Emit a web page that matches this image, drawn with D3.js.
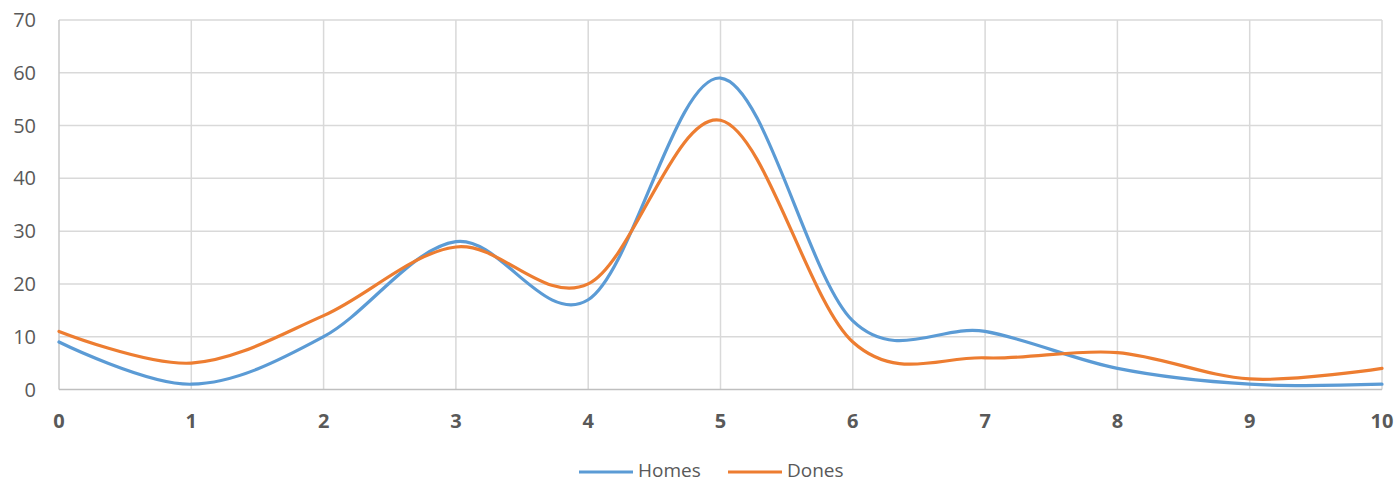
<!DOCTYPE html>
<html>
<head>
<meta charset="utf-8">
<script src="https://cdn.jsdelivr.net/npm/d3@7"></script>
<style>
  html, body { margin: 0; padding: 0; background: #fff; }
  svg { display: block; }
</style>
</head>
<body>
<div id="chart"></div>
<script>
const xValues = [0, 1, 2, 3, 4, 5, 6, 7, 8, 9, 10];
const homes = [9, 1, 10, 28, 17, 59, 13, 11, 4, 1, 1];
const dones = [11, 5, 14, 27, 20, 51, 9, 6, 7, 2, 4];
const yTicks = [0, 10, 20, 30, 40, 50, 60, 70];
const seriesNames = ["Homes", "Dones"];
const seriesColors = ["#5B9BD5", "#ED7D31"];

const W = 1397, H = 482;
const margin = { left: 59, right: 15, top: 20, bottom: 92.5 };
const svg = d3.select("#chart").append("svg").attr("width", W).attr("height", H);

const x = d3.scaleLinear().domain([0, 10]).range([margin.left, W - margin.right]);
const y = d3.scaleLinear().domain([0, 70]).range([H - margin.bottom, margin.top]);

const font = "'Open Sans', 'Liberation Sans', sans-serif";

// horizontal grid
svg.append("g").selectAll("line").data(yTicks.filter(d => d > 0)).join("line")
  .attr("x1", x(0)).attr("x2", x(10))
  .attr("y1", d => y(d)).attr("y2", d => y(d))
  .attr("stroke", "#d9d9d9").attr("stroke-width", 1.5);

// vertical grid
svg.append("g").selectAll("line").data(xValues.filter(d => d > 0)).join("line")
  .attr("x1", d => x(d)).attr("x2", d => x(d))
  .attr("y1", y(0)).attr("y2", y(70))
  .attr("stroke", "#d9d9d9").attr("stroke-width", 1.5);

// axes lines
svg.append("line").attr("x1", x(0)).attr("x2", x(0)).attr("y1", y(0)).attr("y2", y(70))
  .attr("stroke", "#c8c8c8").attr("stroke-width", 1.5);
svg.append("line").attr("x1", x(0)).attr("x2", x(10)).attr("y1", y(0)).attr("y2", y(0))
  .attr("stroke", "#bfbfbf").attr("stroke-width", 1.5);

// y labels
svg.append("g").selectAll("text").data(yTicks).join("text")
  .attr("x", 36).attr("y", d => y(d)).attr("dy", "0.35em")
  .attr("text-anchor", "end")
  .attr("font-family", font).attr("font-size", 20).attr("fill", "#595959")
  .text(d => d);

// x labels
svg.append("g").selectAll("text").data(xValues).join("text")
  .attr("x", d => x(d)).attr("y", 421).attr("dy", "0.35em")
  .attr("text-anchor", "middle")
  .attr("font-family", font).attr("font-size", 20).attr("font-weight", "bold").attr("fill", "#595959")
  .text(d => d);

// lines
const line = d3.line().x(d => x(d[0])).y(d => y(d[1])).curve(d3.curveCardinal.tension(0));
[homes, dones].forEach((vals, i) => {
  svg.append("path")
    .datum(xValues.map((xv, j) => [xv, vals[j]]))
    .attr("d", line)
    .attr("fill", "none")
    .attr("stroke", seriesColors[i])
    .attr("stroke-width", 3.2)
    .attr("stroke-linecap", "round");
});

// legend
const legendX = [579, 728];
seriesNames.forEach((name, i) => {
  const g = svg.append("g");
  g.append("line").attr("x1", legendX[i]).attr("x2", legendX[i] + 54)
    .attr("y1", 472).attr("y2", 472)
    .attr("stroke", seriesColors[i]).attr("stroke-width", 3.2);
  g.append("text").attr("x", legendX[i] + 59).attr("y", 470.5).attr("dy", "0.35em")
    .attr("font-family", font).attr("font-size", 19).attr("fill", "#595959")
    .text(name);
});
</script>
</body>
</html>
